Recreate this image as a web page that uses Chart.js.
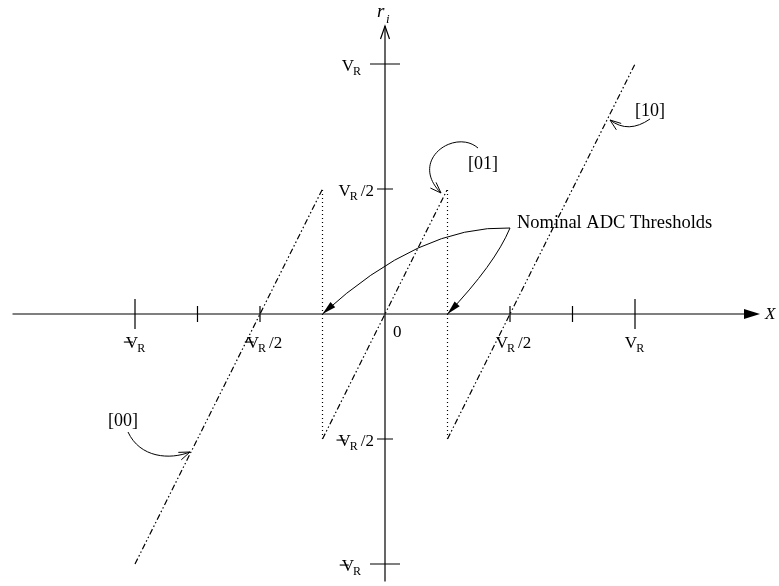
<!DOCTYPE html>
<html>
<head>
<meta charset="utf-8">
<script src="https://cdn.jsdelivr.net/npm/chart.js@4.4.1/dist/chart.umd.min.js"></script>
<style>
  html, body { margin: 0; padding: 0; background: #fff; }
  #wrap { width: 779px; height: 586px; position: relative; }
</style>
</head>
<body>
<div id="wrap"><canvas id="c"></canvas></div>
<script>
// Residue r_i of a 1.5-bit pipeline stage versus input X, both in units of V_R
const code00X = [-1, -0.25];
const code00R = [-1, 0.5];
const code01X = [-0.25, 0.25];
const code01R = [-0.5, 0.5];
const code10X = [0.25, 1];
const code10R = [-0.5, 1];

// Comparator thresholds and the residue jump at each of them
const thresholdX = [-0.25, 0.25];
const thresholdSpan = [-0.5, 0.5];

// Axis ticks and their labels
const xMajorTicks = [-1, 1];
const xMinorTicks = [-0.75, -0.5, 0.5, 0.75];
const yMajorTicks = [-1, 1];
const yMinorTicks = [-0.5, 0.5];
const xTickLabelValues = [-1, -0.5, 0.5, 1];
const xTickLabels = ['-V_R', '-V_R/2', 'V_R/2', 'V_R'];
const yTickLabelValues = [1, 0.5, -0.5, -1];
const yTickLabels = ['V_R', 'V_R/2', '-V_R/2', '-V_R'];

const codeLabels = ['[00]', '[01]', '[10]'];
const thresholdCaption = 'Nominal ADC Thresholds';

const pts = (xs, ys) => xs.map((x, i) => ({ x: x, y: ys[i] }));

const SERIF = '"Liberation Serif", "Times New Roman", serif';
const DASH_DOT = [6, 2.5, 1.5, 2.5, 1.5, 2.5];

function seg(data, dash) {
  return {
    data: data, showLine: true, pointRadius: 0, borderColor: '#000',
    borderWidth: 1.2, borderDash: dash, fill: false, tension: 0
  };
}

const datasets = [
  seg(pts(code00X, code00R), DASH_DOT),
  seg(pts(code01X, code01R), DASH_DOT),
  seg(pts(code10X, code10R), DASH_DOT),
  seg(pts([thresholdX[0], thresholdX[0]], thresholdSpan), [1, 3]),
  seg(pts([thresholdX[1], thresholdX[1]], thresholdSpan), [1, 3])
];

// small drawing helpers
function openHead(ctx, tip, from, len, half) {
  const dx = tip.x - from.x, dy = tip.y - from.y;
  const d = Math.hypot(dx, dy) || 1;
  const ux = dx / d, uy = dy / d, nx = -uy, ny = ux;
  const bx = tip.x - ux * len, by = tip.y - uy * len;
  ctx.beginPath();
  ctx.moveTo(bx + nx * half, by + ny * half);
  ctx.lineTo(tip.x, tip.y);
  ctx.lineTo(bx - nx * half, by - ny * half);
  ctx.stroke();
}
function solidHead(ctx, tip, from, len, half) {
  const dx = tip.x - from.x, dy = tip.y - from.y;
  const d = Math.hypot(dx, dy) || 1;
  const ux = dx / d, uy = dy / d, nx = -uy, ny = ux;
  const bx = tip.x - ux * len, by = tip.y - uy * len;
  ctx.beginPath();
  ctx.moveTo(bx + nx * half, by + ny * half);
  ctx.lineTo(tip.x, tip.y);
  ctx.lineTo(bx - nx * half, by - ny * half);
  ctx.closePath();
  ctx.fill();
}

// draws labels like "-V_R/2" : optional minus, V with subscript R, optional "/2"
function vrWidth(ctx, neg, half) {
  ctx.font = '17px ' + SERIF;
  let w = ctx.measureText('V').width;
  ctx.font = '12px ' + SERIF;
  w += ctx.measureText('R').width;
  if (half) { ctx.font = '17px ' + SERIF; w += 3 + ctx.measureText('/2').width; }
  if (neg) w += 2;
  return w;
}
function drawVR(ctx, text, x, base, align) {
  const neg = text.charAt(0) === '-';
  const half = text.indexOf('/2') >= 0;
  const w = vrWidth(ctx, neg, half);
  let left = align === 'center' ? x - w / 2 : (align === 'right' ? x - w : x);
  ctx.textAlign = 'left';
  ctx.textBaseline = 'alphabetic';
  if (neg) {
    ctx.fillRect(left, base - 6.5, 9, 1.1);
    left += 2;
  }
  ctx.font = '17px ' + SERIF;
  ctx.fillText('V', left, base);
  left += ctx.measureText('V').width - 1;
  ctx.font = '12px ' + SERIF;
  ctx.fillText('R', left, base + 4);
  left += ctx.measureText('R').width;
  if (half) {
    ctx.font = '17px ' + SERIF;
    ctx.fillText('/2', left + 3, base);
  }
}

const residuePlot = {
  id: 'residuePlot',
  beforeDatasetsDraw(chart) {
    const ctx = chart.ctx;
    const sx = chart.scales.x, sy = chart.scales.y;
    const X = v => sx.getPixelForValue(v), Y = v => sy.getPixelForValue(v);
    const x0 = X(0), y0 = Y(0);
    ctx.save();
    ctx.strokeStyle = '#000';
    ctx.fillStyle = '#000';
    ctx.lineWidth = 1.2;

    // horizontal axis with solid arrow
    const xEnd = X(1.5);
    ctx.beginPath();
    ctx.moveTo(X(-1.49), y0);
    ctx.lineTo(xEnd - 10, y0);
    ctx.stroke();
    solidHead(ctx, { x: xEnd, y: y0 }, { x: xEnd - 20, y: y0 }, 16, 5);

    // vertical axis with open arrow
    const yTop = Y(1.152);
    ctx.beginPath();
    ctx.moveTo(x0, Y(-1.07));
    ctx.lineTo(x0, yTop);
    ctx.stroke();
    openHead(ctx, { x: x0, y: yTop }, { x: x0, y: yTop + 20 }, 13, 4.5);

    // ticks
    ctx.beginPath();
    xMajorTicks.forEach(v => { ctx.moveTo(X(v), y0 - 15); ctx.lineTo(X(v), y0 + 15); });
    xMinorTicks.forEach(v => { ctx.moveTo(X(v), y0 - 8); ctx.lineTo(X(v), y0 + 8); });
    yMajorTicks.forEach(v => { ctx.moveTo(x0 - 15, Y(v)); ctx.lineTo(x0 + 15, Y(v)); });
    yMinorTicks.forEach(v => { ctx.moveTo(x0 - 8, Y(v)); ctx.lineTo(x0 + 8, Y(v)); });
    ctx.stroke();

    // tick labels
    xTickLabelValues.forEach((v, i) => {
      const half = xTickLabels[i].indexOf('/2') >= 0;
      drawVR(ctx, xTickLabels[i], X(v) + (half ? 4 : 0), y0 + 34, 'center');
    });
    yTickLabelValues.forEach((v, i) => {
      const half = yTickLabels[i].indexOf('/2') >= 0;
      drawVR(ctx, yTickLabels[i], x0 - (half ? 10 : 23), Y(v) + 7, 'right');
    });
    ctx.font = '17px ' + SERIF;
    ctx.textAlign = 'left';
    ctx.fillText('0', x0 + 8, y0 + 23);

    // axis names
    ctx.font = 'italic 17px ' + SERIF;
    ctx.fillText('X', X(1.52), y0 + 5);
    ctx.font = 'italic 19px ' + SERIF;
    ctx.fillText('r', x0 - 8, Y(1.188));
    ctx.font = 'italic 13px ' + SERIF;
    ctx.fillText('i', x0 + 1, Y(1.164));
    ctx.restore();
  },
  afterDatasetsDraw(chart) {
    const ctx = chart.ctx;
    const sx = chart.scales.x, sy = chart.scales.y;
    const P = (x, y) => ({ x: sx.getPixelForValue(x), y: sy.getPixelForValue(y) });
    ctx.save();
    ctx.strokeStyle = '#000';
    ctx.fillStyle = '#000';
    ctx.lineWidth = 1;
    ctx.font = '18px ' + SERIF;
    ctx.textAlign = 'left';
    ctx.textBaseline = 'alphabetic';

    // code labels
    let p = P(-1.108, -0.448); ctx.fillText(codeLabels[0], p.x, p.y);
    p = P(0.332, 0.58); ctx.fillText(codeLabels[1], p.x, p.y);
    p = P(1.0, 0.792); ctx.fillText(codeLabels[2], p.x, p.y);
    ctx.font = '18.5px ' + SERIF;
    p = P(0.528, 0.344); ctx.fillText(thresholdCaption, p.x, p.y);

    // [00] pointer
    let a = P(-1.028, -0.472), c1 = P(-0.98, -0.576), c2 = P(-0.86, -0.584), t = P(-0.78, -0.552);
    ctx.beginPath(); ctx.moveTo(a.x, a.y); ctx.bezierCurveTo(c1.x, c1.y, c2.x, c2.y, t.x, t.y); ctx.stroke();
    openHead(ctx, t, c2, 11, 4);

    // [01] pointer
    a = P(0.372, 0.664); c1 = P(0.28, 0.744); c2 = P(0.092, 0.616); t = P(0.224, 0.484);
    ctx.beginPath(); ctx.moveTo(a.x, a.y); ctx.bezierCurveTo(c1.x, c1.y, c2.x, c2.y, t.x, t.y); ctx.stroke();
    openHead(ctx, t, c2, 11, 4);

    // [10] pointer
    a = P(1.06, 0.78); c1 = P(0.974, 0.72); t = P(0.9, 0.776);
    ctx.beginPath(); ctx.moveTo(a.x, a.y); ctx.quadraticCurveTo(c1.x, c1.y, t.x, t.y); ctx.stroke();
    openHead(ctx, t, c1, 11, 4);

    // threshold pointers
    a = P(0.5, 0.344);
    const ctrl = [P(0.14, 0.356), P(0.44, 0.2)];
    thresholdX.forEach((v, i) => {
      const tip = P(v, 0);
      ctx.beginPath(); ctx.moveTo(a.x, a.y); ctx.quadraticCurveTo(ctrl[i].x, ctrl[i].y, tip.x, tip.y); ctx.stroke();
      solidHead(ctx, tip, ctrl[i], 14, 3.5);
    });
    ctx.restore();
  }
};

new Chart(document.getElementById('c'), {
  type: 'scatter',
  data: { datasets: datasets },
  options: {
    responsive: true,
    maintainAspectRatio: false,
    animation: false,
    layout: { padding: { left: 10, right: 19, top: 14, bottom: 0 } },
    plugins: { legend: { display: false }, tooltip: { enabled: false } },
    scales: {
      x: { type: 'linear', min: -1.5, max: 1.5, display: false },
      y: { type: 'linear', min: -1.088, max: 1.2, display: false }
    }
  },
  plugins: [residuePlot]
});
</script>
</body>
</html>
